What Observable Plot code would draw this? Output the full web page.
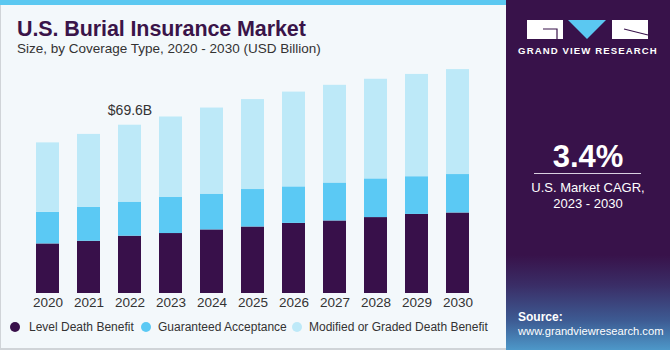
<!DOCTYPE html>
<html>
<head>
<meta charset="utf-8">
<script src="https://cdn.jsdelivr.net/npm/d3@7"></script>
<script src="https://cdn.jsdelivr.net/npm/@observablehq/plot@0.6"></script>
<style>
  body { margin: 0; background: #fff; font-family: "Liberation Sans", Arial, sans-serif; }
  #wrap { position: relative; width: 670px; height: 350px; overflow: hidden; background: #f3f8fb; }
  #topband { position: absolute; left: 0; top: 0; width: 506px; height: 5px; background: #5bc8f1; }
  #leftborder { position: absolute; left: 0; top: 5px; width: 1px; height: 345px; background: #d0d4d8; }
  #bottomborder { position: absolute; left: 0; top: 348px; width: 506px; height: 2px; background: #d0d4d8; }
  #title { position: absolute; left: 17px; top: 17px; font-size: 21.5px; font-weight: bold; color: #3a1449; letter-spacing: -0.1px; }
  #subtitle { position: absolute; left: 17px; top: 41px; font-size: 13.5px; color: #333; }
  #chart { position: absolute; left: 0; top: 50px; }
  #legend { position: absolute; left: 0; top: 319px; width: 506px; height: 16px; font-size: 12px; color: #333; }
  #legend .dot { position: absolute; top: 3px; width: 10px; height: 10px; border-radius: 50%; }
  #legend .txt { position: absolute; top: 1px; white-space: nowrap; }
  #panel { position: absolute; left: 506px; top: 0; width: 164px; height: 350px;
    background: linear-gradient(to bottom, #38124a 0px, #38124a 255px, #3a2d66 285px, #3d5a92 320px, #4d98c9 350px); }
  #brand { position: absolute; left: 0; width: 164px; top: 45px; text-align: center; color: #fff; font-size: 9.6px; font-weight: bold; letter-spacing: 1.1px; }
  #cagr { position: absolute; left: 0; width: 164px; top: 139px; text-align: center; color: #fff; font-size: 31px; font-weight: bold; }
  #rule { position: absolute; left: 28px; width: 107px; top: 173px; height: 1px; background: #d8d0e0; }
  #cagrtxt { position: absolute; left: 0; width: 164px; top: 180px; text-align: center; color: #fff; font-size: 13px; line-height: 16px; }
  #source { position: absolute; left: 12px; top: 310px; color: #fff; font-size: 11.2px; line-height: 14px; white-space: nowrap; }
  #source b { font-size: 12px; }
</style>
</head>
<body>
<div id="wrap">
  <div id="topband"></div>
  <div id="leftborder"></div>
  <div id="bottomborder"></div>
  <div id="title">U.S. Burial Insurance Market</div>
  <div id="subtitle">Size, by Coverage Type, 2020 - 2030 (USD Billion)</div>
  <div id="chart"></div>
  <div id="legend"></div>
  <div id="panel">
    <svg style="position:absolute;left:21px;top:20px" width="122" height="20" viewBox="0 0 122 20">
      <rect x="0" y="0" width="36" height="19" fill="#fff"/>
      <path d="M16 9 H30 V19" stroke="#38124a" stroke-width="1.2" fill="none"/>
      <polygon points="41,0 79,0 60,19" fill="#5bc8f1"/>
      <rect x="85" y="0" width="36" height="19" fill="#fff"/>
      <path d="M97 9 L121 15" stroke="#38124a" stroke-width="1.2" fill="none"/>
    </svg>
    <div id="brand">GRAND VIEW RESEARCH</div>
    <div id="cagr">3.4%</div>
    <div id="rule"></div>
    <div id="cagrtxt">U.S. Market CAGR,<br>2023 - 2030</div>
    <div id="source"><b>Source:</b><br>www.grandviewresearch.com</div>
  </div>
</div>
<script>
const years = ["2020","2021","2022","2023","2024","2025","2026","2027","2028","2029","2030"];
const seriesNames = ["Level Death Benefit", "Guaranteed Acceptance", "Modified or Graded Death Benefit"];
const seriesColors = ["#38104a", "#5bc9f4", "#bde9f8"];
const levelDeath = [20.5, 21.6, 23.7, 24.8, 26.3, 27.5, 29.0, 30.0, 31.4, 32.7, 33.3];
const guaranteed = [13.1, 14.1, 14.1, 14.9, 14.8, 15.5, 15.1, 15.7, 16.0, 15.6, 15.9];
const modified   = [28.7, 30.1, 31.8, 33.3, 35.6, 37.2, 39.2, 40.4, 41.2, 42.3, 43.4];
const annotations = [{year: "2022", label: "$69.6B"}];

const seriesValues = [levelDeath, guaranteed, modified];
const rows = [];
years.forEach((y, i) => {
  seriesNames.forEach((s, j) => rows.push({year: y, series: s, value: seriesValues[j][i]}));
});
const totals = years.map((y, i) => ({year: y, total: levelDeath[i] + guaranteed[i] + modified[i]}));
const labelRows = annotations.map(a => ({...a, total: totals.find(t => t.year === a.year).total}));

const chart = Plot.plot({
  width: 505,
  height: 260,
  marginLeft: 13,
  marginRight: 12,
  marginTop: 0,
  marginBottom: 17,
  style: {background: "transparent", fontFamily: "Liberation Sans, Arial, sans-serif"},
  x: {domain: years, padding: 0.43, label: null, tickSize: 0, tickPadding: 5},
  y: {domain: [0, 100.5], axis: null},
  color: {domain: seriesNames, range: seriesColors},
  marks: [
    Plot.barY(rows, Plot.stackY({x: "year", y: "value", fill: "series", order: seriesNames})),
    Plot.axisX({tickSize: 0, tickPadding: 4, fontSize: 13.5, fill: "#333", label: null}),
    Plot.text(labelRows, {x: "year", y: "total", text: "label", dy: -10, lineAnchor: "bottom", fontSize: 14, fill: "#333"})
  ]
});
document.getElementById("chart").appendChild(chart);

const legend = document.getElementById("legend");
const dotX = [10, 141, 292];
const txtX = [29, 158, 309];
seriesNames.forEach((s, i) => {
  const dot = document.createElement("span");
  dot.className = "dot";
  dot.style.left = dotX[i] + "px";
  dot.style.background = seriesColors[i];
  const txt = document.createElement("span");
  txt.className = "txt";
  txt.style.left = txtX[i] + "px";
  txt.textContent = s;
  legend.appendChild(dot);
  legend.appendChild(txt);
});
</script>
</body>
</html>
